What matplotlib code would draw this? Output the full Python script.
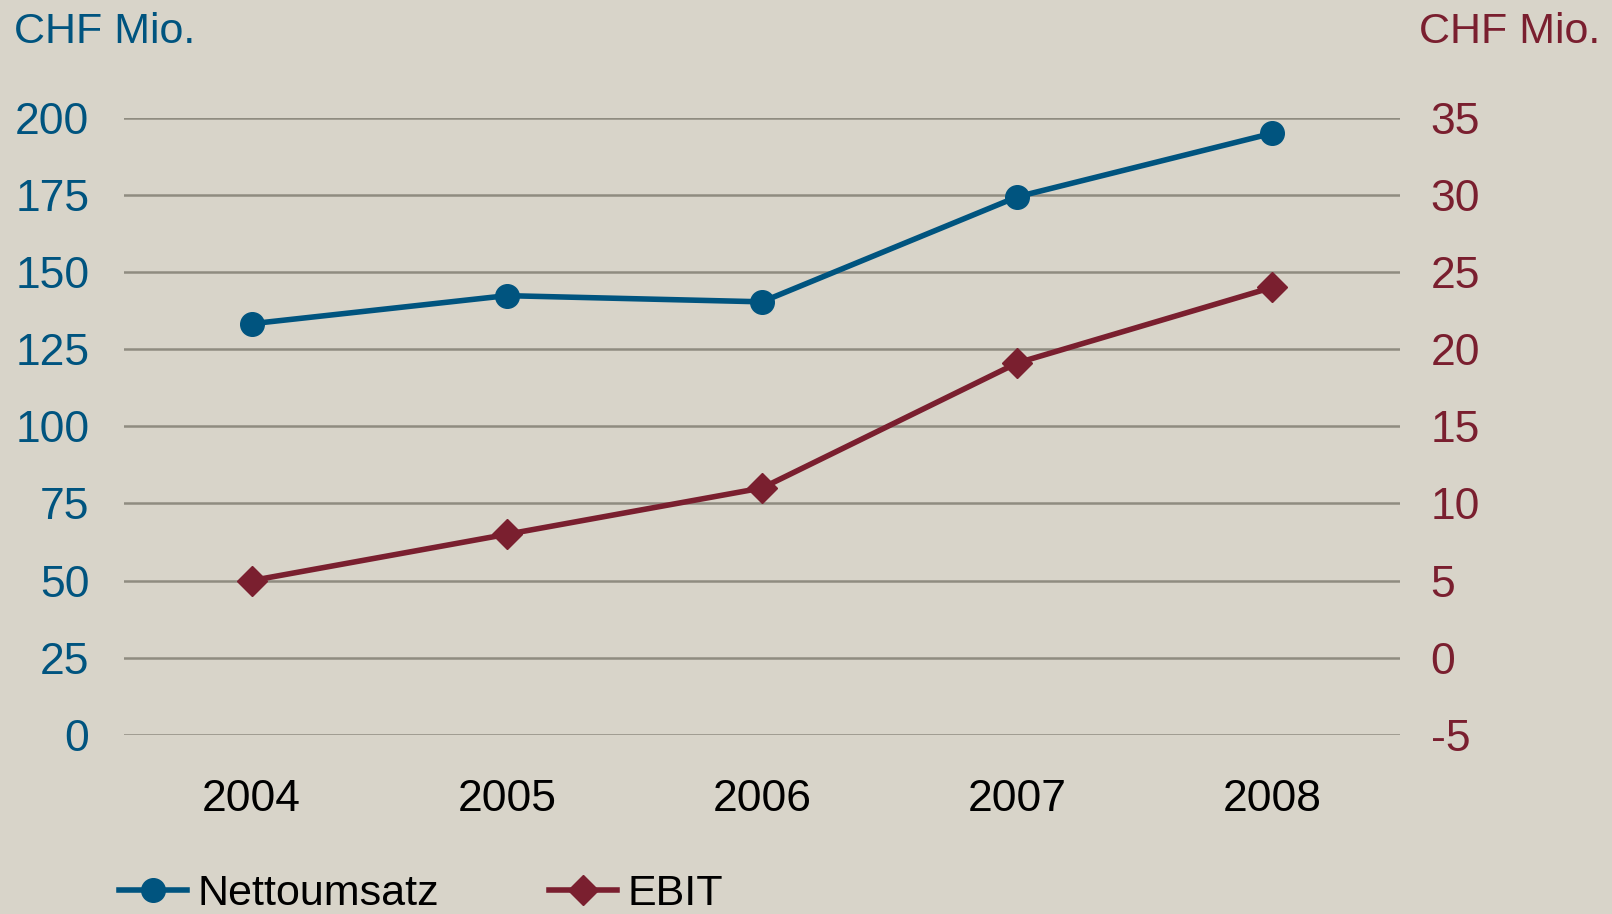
import matplotlib.pyplot as plt

years = ['2004', '2005', '2006', '2007', '2008']
nettoumsatz = [133.2, 142.3, 140.3, 174.3, 194.9]
ebit = [5.0, 8.0, 11.0, 19.1, 24.0]
left_ticks = [0, 25, 50, 75, 100, 125, 150, 175, 200]
right_ticks = [-5, 0, 5, 10, 15, 20, 25, 30, 35]

bg = '#d8d4c9'
blue = '#00547f'
red = '#7a1f2f'
grid = '#8f8c80'

plt.rcParams['font.family'] = ['Liberation Sans', 'DejaVu Sans']
plt.rcParams['axes.unicode_minus'] = False

fig = plt.figure(figsize=(16.12, 9.14), dpi=100, facecolor=bg)
ax = fig.add_axes([124/1612, 1-735/914, (1400-124)/1612, (735-117.5)/914])
ax.set_facecolor(bg)
ax2 = ax.twinx()

x = list(range(len(years)))
l1, = ax.plot(x, nettoumsatz, color=blue, lw=4, marker='o', ms=17,
              clip_on=False, zorder=5, label='Nettoumsatz')
l2, = ax2.plot(x, ebit, color=red, lw=4, marker='D', ms=15,
               clip_on=False, zorder=5, label='EBIT')

ax.set_xlim(-0.5, 4.5)
ax.set_ylim(0, 200)
ax2.set_ylim(-5, 35)
ax.set_yticks(left_ticks)
ax2.set_yticks(right_ticks)
ax.set_xticks(x)
ax.set_xticklabels(years)

for v in left_ticks:
    ax.axhline(v, color=grid, lw=1.8, zorder=1)

for a in (ax, ax2):
    for s in a.spines.values():
        s.set_visible(False)
ax.tick_params(axis='y', length=0, pad=25, labelsize=32, labelcolor=blue)
ax2.tick_params(axis='y', length=0, pad=22, labelsize=32, labelcolor=red)
ax.tick_params(axis='x', length=0, pad=32, labelsize=32, labelcolor='black')

fig.text(14/1612, 1-43/914, 'CHF Mio.', color=blue, fontsize=31, ha='left', va='baseline')
fig.text(1600/1612, 1-43/914, 'CHF Mio.', color=red, fontsize=31, ha='right', va='baseline')

fig.legend(handles=[l1, l2], loc='lower left', bbox_to_anchor=(119/1612, 0.0),
           ncol=2, frameon=False, handlelength=1.58,
           handletextpad=0.24, columnspacing=2.55, borderaxespad=0, borderpad=0,
           prop={'size': 31})

fig.savefig('out.png', dpi=100, facecolor=bg)
